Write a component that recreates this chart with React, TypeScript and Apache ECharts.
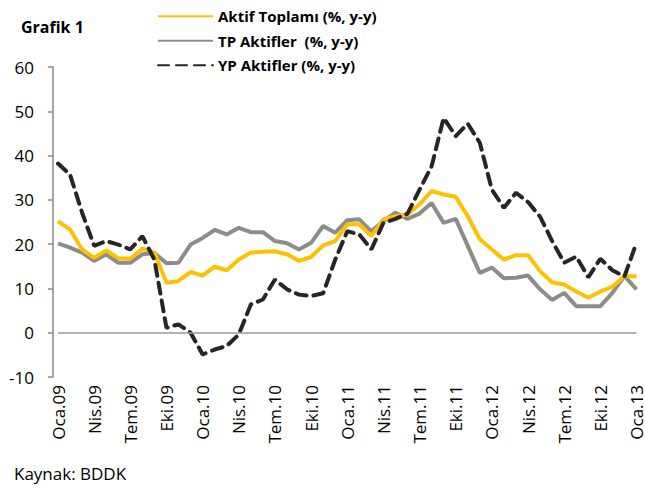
import React, { useEffect, useRef } from "react";
import * as echarts from "echarts";

const monthNames = ["Oca", "Şub", "Mar", "Nis", "May", "Haz", "Tem", "Ağu", "Eyl", "Eki", "Kas", "Ara"];
const years = ["09", "10", "11", "12", "13"];
const categories: string[] = [];
years.forEach((y, yi) => {
  monthNames.forEach((m, mi) => {
    if (yi < 4 || mi === 0) categories.push(m + "." + y);
  });
});

const aktifToplami = [
  25.2, 23.3, 18.8, 16.9, 18.6, 16.8, 16.7, 19.0, 18.1, 11.3, 11.7, 13.7,
  12.9, 14.9, 14.1, 16.5, 18.1, 18.3, 18.4, 17.7, 16.2, 17.1, 19.7, 20.7,
  24.5, 24.5, 21.8, 25.6, 26.3, 26.7, 29.0, 32.0, 31.2, 30.7, 26.3, 21.1,
  18.8, 16.5, 17.5, 17.5, 13.9, 11.4, 10.9, 9.3, 7.9, 9.3, 10.4, 12.8, 12.7,
];
const tpAktifler = [
  20.2, 19.2, 18.1, 16.2, 17.7, 15.8, 15.8, 17.7, 18.0, 15.7, 15.8, 19.9,
  21.4, 23.2, 22.2, 23.7, 22.7, 22.7, 20.7, 20.2, 18.8, 20.3, 24.1, 22.6,
  25.4, 25.6, 22.9, 25.2, 27.1, 25.7, 26.9, 29.3, 24.8, 25.7, 19.6, 13.5,
  14.7, 12.3, 12.4, 12.9, 9.8, 7.4, 9.0, 6.0, 6.0, 6.0, 9.0, 12.8, 9.8,
];
const ypAktifler = [
  38.2, 35.7, 27.1, 19.6, 20.7, 19.9, 18.8, 21.8, 16.5, 1.1, 1.9, 0.0,
  -4.9, -3.8, -3.0, -0.4, 6.4, 7.5, 12.0, 9.8, 8.6, 8.3, 8.9, 16.5,
  22.9, 22.2, 18.8, 24.8, 25.7, 26.9, 32.3, 37.6, 48.5, 44.4, 47.2, 42.9,
  32.3, 28.2, 31.6, 29.5, 26.2, 20.7, 15.8, 17.2, 12.5, 16.7, 14.1, 12.7, 20.3,
];

const seriesNames = ["Aktif Toplamı (%, y-y)", "TP Aktifler  (%, y-y)", "YP Aktifler (%, y-y)"];
const FONT = "'Open Sans', sans-serif";

export default function App() {
  const ref = useRef<HTMLDivElement>(null);
  useEffect(() => {
    if (!ref.current) return;
    const chart = echarts.init(ref.current, null, { renderer: "svg" });
    chart.setOption({
      animation: false,
      backgroundColor: "#ffffff",
      textStyle: { fontFamily: FONT },
      title: {
        text: "Grafik 1",
        left: 16,
        top: 14,
        textStyle: { fontFamily: FONT, fontSize: 16, fontWeight: "bold", color: "#000" },
      },
      legend: {
        orient: "vertical",
        left: 152,
        top: 2,
        itemWidth: 55,
        itemHeight: 14,
        itemGap: 6,
        itemStyle: { opacity: 0 },
        data: seriesNames,
        textStyle: { fontFamily: FONT, fontSize: 15, fontWeight: "bold", color: "#000", lineHeight: 18.5 },
      },
      grid: { left: 58, right: 5, top: 67, bottom: 111 },
      xAxis: {
        type: "category",
        data: categories,
        boundaryGap: false,
        axisLine: { show: false },
        axisTick: { show: false },
        axisLabel: {
          interval: 2,
          rotate: 90,
          margin: 8,
          fontFamily: FONT,
          fontSize: 17,
          color: "#000",
        },
        splitLine: { show: false },
      },
      yAxis: {
        type: "value",
        min: -10,
        max: 60,
        interval: 10,
        offset: 5,
        axisLine: { show: true, lineStyle: { color: "#8a8a8a", width: 1.5 } },
        axisTick: { show: true, length: 5, lineStyle: { color: "#8a8a8a", width: 1.5 } },
        axisLabel: { margin: 19, fontFamily: FONT, fontSize: 17, color: "#000" },
        splitLine: { show: false },
      },
      series: [
        {
          name: seriesNames[1],
          type: "line",
          data: tpAktifler,
          symbol: "none",
          z: 2,
          lineStyle: { color: "#8c8c8c", width: 4 },
          itemStyle: { color: "#8c8c8c" },
          markLine: {
            silent: true,
            symbol: "none",
            label: { show: false },
            lineStyle: { color: "#9a9a9a", width: 1.5, type: "solid" },
            data: [{ yAxis: 0 }],
          },
        },
        {
          name: seriesNames[0],
          type: "line",
          data: aktifToplami,
          symbol: "none",
          z: 3,
          lineStyle: { color: "#ffc000", width: 4 },
          itemStyle: { color: "#ffc000" },
        },
        {
          name: seriesNames[2],
          type: "line",
          data: ypAktifler,
          symbol: "none",
          z: 4,
          lineStyle: { color: "#262626", width: 4, type: [11, 7], cap: "round" },
          itemStyle: { color: "#262626" },
        },
      ],
      graphic: [
        {
          type: "text",
          left: 14,
          top: 465,
          style: { text: "Kaynak: BDDK", fontFamily: FONT, fontSize: 17, fill: "#000" },
        },
      ],
    });
    return () => chart.dispose();
  }, []);
  return (
    <div
      ref={ref}
      style={{ position: "fixed", left: 0, top: 0, width: 645, height: 488, background: "#fff" }}
    />
  );
}
